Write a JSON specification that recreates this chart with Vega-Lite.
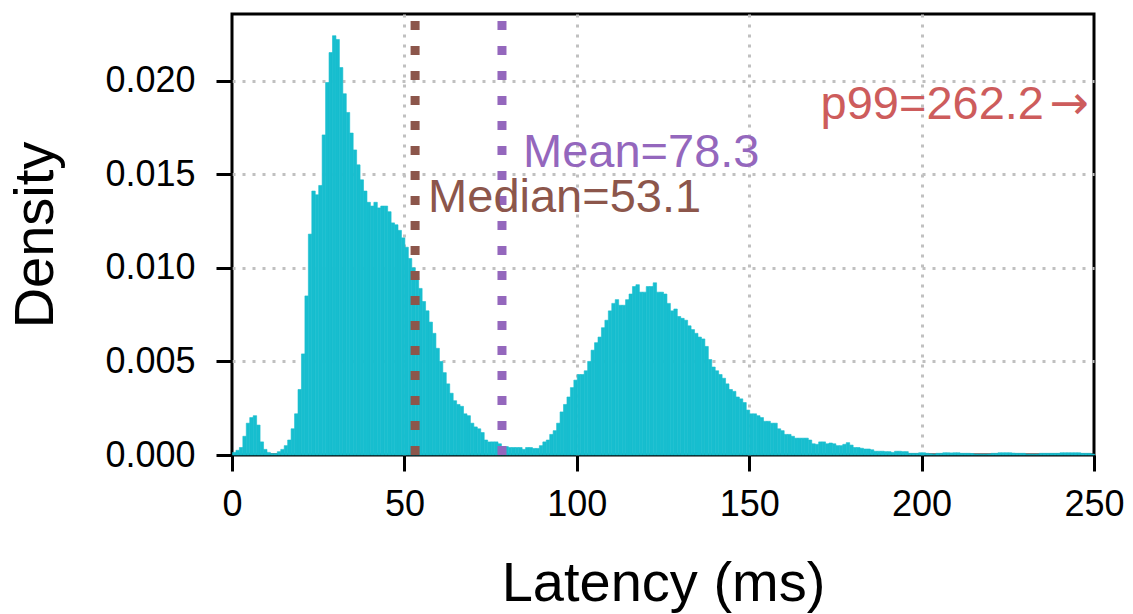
{
  "$schema": "https://vega.github.io/schema/vega-lite/v6.json",
  "autosize": {"type": "none"},
  "padding": {"left": 232, "top": 14, "right": 39, "bottom": 159},
  "width": 862,
  "height": 441,
  "background": "white",
  "view": {"stroke": "black", "strokeWidth": 3},
  "config": {
    "font": "Liberation Sans",
    "axis": {
      "labelFontSize": 36, "titleFontSize": 56, "titleFontWeight": "normal",
      "labelColor": "black", "titleColor": "black",
      "tickColor": "black", "tickWidth": 3, "tickSize": 16,
      "domain": false, "grid": true, "gridColor": "#c0c0c0", "gridDash": [3, 7], "gridWidth": 3,
      "labelOverlap": false, "labelFlush": false
    }
  },
  "datasets": {
    "hist": [
      {"lo":0,"hi":1,"d":0.00014},{"lo":1,"hi":2,"d":0.00025},{"lo":2,"hi":3,"d":0.0004},{"lo":3,"hi":4,"d":0.001},{"lo":4,"hi":5,"d":0.0017},
      {"lo":5,"hi":6,"d":0.002},{"lo":6,"hi":7,"d":0.0021},{"lo":7,"hi":8,"d":0.0016},{"lo":8,"hi":9,"d":0.0007},{"lo":9,"hi":10,"d":0.0003},
      {"lo":10,"hi":11,"d":0.00014},{"lo":11,"hi":12,"d":0.00007},{"lo":12,"hi":13,"d":0.00007},{"lo":13,"hi":14,"d":0.00018},{"lo":14,"hi":15,"d":0.0003},
      {"lo":15,"hi":16,"d":0.0005},{"lo":16,"hi":17,"d":0.0008},{"lo":17,"hi":18,"d":0.0014},{"lo":18,"hi":19,"d":0.0022},{"lo":19,"hi":20,"d":0.0035},
      {"lo":20,"hi":21,"d":0.0054},{"lo":21,"hi":22,"d":0.0085},{"lo":22,"hi":23,"d":0.0118},{"lo":23,"hi":24,"d":0.0141},{"lo":24,"hi":25,"d":0.0139},
      {"lo":25,"hi":26,"d":0.0144},{"lo":26,"hi":27,"d":0.0171},{"lo":27,"hi":28,"d":0.0199},{"lo":28,"hi":29,"d":0.0215},{"lo":29,"hi":30,"d":0.0224},
      {"lo":30,"hi":31,"d":0.0222},{"lo":31,"hi":32,"d":0.0207},{"lo":32,"hi":33,"d":0.0193},{"lo":33,"hi":34,"d":0.0183},{"lo":34,"hi":35,"d":0.0172},
      {"lo":35,"hi":36,"d":0.0163},{"lo":36,"hi":37,"d":0.0155},{"lo":37,"hi":38,"d":0.0147},{"lo":38,"hi":39,"d":0.0141},{"lo":39,"hi":40,"d":0.0135},
      {"lo":40,"hi":41,"d":0.0133},{"lo":41,"hi":42,"d":0.0135},{"lo":42,"hi":43,"d":0.0132},{"lo":43,"hi":44,"d":0.0133},{"lo":44,"hi":45,"d":0.0133},
      {"lo":45,"hi":46,"d":0.013},{"lo":46,"hi":47,"d":0.0124},{"lo":47,"hi":48,"d":0.0123},{"lo":48,"hi":49,"d":0.012},{"lo":49,"hi":50,"d":0.0116},
      {"lo":50,"hi":51,"d":0.0111},{"lo":51,"hi":52,"d":0.0105},{"lo":52,"hi":53,"d":0.01},{"lo":53,"hi":54,"d":0.0095},{"lo":54,"hi":55,"d":0.0089},
      {"lo":55,"hi":56,"d":0.0082},{"lo":56,"hi":57,"d":0.0077},{"lo":57,"hi":58,"d":0.0071},{"lo":58,"hi":59,"d":0.0065},{"lo":59,"hi":60,"d":0.0057},
      {"lo":60,"hi":61,"d":0.005},{"lo":61,"hi":62,"d":0.0044},{"lo":62,"hi":63,"d":0.0038},{"lo":63,"hi":64,"d":0.0033},{"lo":64,"hi":65,"d":0.0029},
      {"lo":65,"hi":66,"d":0.0027},{"lo":66,"hi":67,"d":0.0026},{"lo":67,"hi":68,"d":0.0022},{"lo":68,"hi":69,"d":0.0021},{"lo":69,"hi":70,"d":0.0017},
      {"lo":70,"hi":71,"d":0.0015},{"lo":71,"hi":72,"d":0.0014},{"lo":72,"hi":73,"d":0.0012},{"lo":73,"hi":74,"d":0.0008},{"lo":74,"hi":75,"d":0.0007},
      {"lo":75,"hi":76,"d":0.0007},{"lo":76,"hi":77,"d":0.0007},{"lo":77,"hi":78,"d":0.0006},{"lo":78,"hi":79,"d":0.00045},{"lo":79,"hi":80,"d":0.00045},
      {"lo":80,"hi":81,"d":0.0004},{"lo":81,"hi":82,"d":0.0004},{"lo":82,"hi":83,"d":0.0004},{"lo":83,"hi":84,"d":0.0004},{"lo":84,"hi":85,"d":0.0003},
      {"lo":85,"hi":86,"d":0.0004},{"lo":86,"hi":87,"d":0.0004},{"lo":87,"hi":88,"d":0.00035},{"lo":88,"hi":89,"d":0.00035},{"lo":89,"hi":90,"d":0.0005},
      {"lo":90,"hi":91,"d":0.0007},{"lo":91,"hi":92,"d":0.0008},{"lo":92,"hi":93,"d":0.0011},{"lo":93,"hi":94,"d":0.0013},{"lo":94,"hi":95,"d":0.0017},
      {"lo":95,"hi":96,"d":0.0023},{"lo":96,"hi":97,"d":0.0027},{"lo":97,"hi":98,"d":0.0031},{"lo":98,"hi":99,"d":0.0036},{"lo":99,"hi":100,"d":0.004},
      {"lo":100,"hi":101,"d":0.0043},{"lo":101,"hi":102,"d":0.0043},{"lo":102,"hi":103,"d":0.0045},{"lo":103,"hi":104,"d":0.005},{"lo":104,"hi":105,"d":0.0056},
      {"lo":105,"hi":106,"d":0.006},{"lo":106,"hi":107,"d":0.0063},{"lo":107,"hi":108,"d":0.0068},{"lo":108,"hi":109,"d":0.0072},{"lo":109,"hi":110,"d":0.0077},
      {"lo":110,"hi":111,"d":0.0081},{"lo":111,"hi":112,"d":0.0083},{"lo":112,"hi":113,"d":0.008},{"lo":113,"hi":114,"d":0.008},{"lo":114,"hi":115,"d":0.0083},
      {"lo":115,"hi":116,"d":0.0086},{"lo":116,"hi":117,"d":0.009},{"lo":117,"hi":118,"d":0.0091},{"lo":118,"hi":119,"d":0.0087},{"lo":119,"hi":120,"d":0.0087},
      {"lo":120,"hi":121,"d":0.009},{"lo":121,"hi":122,"d":0.009},{"lo":122,"hi":123,"d":0.0092},{"lo":123,"hi":124,"d":0.0087},{"lo":124,"hi":125,"d":0.0087},
      {"lo":125,"hi":126,"d":0.0086},{"lo":126,"hi":127,"d":0.0081},{"lo":127,"hi":128,"d":0.0077},{"lo":128,"hi":129,"d":0.0078},{"lo":129,"hi":130,"d":0.0074},
      {"lo":130,"hi":131,"d":0.0073},{"lo":131,"hi":132,"d":0.0072},{"lo":132,"hi":133,"d":0.0069},{"lo":133,"hi":134,"d":0.0067},{"lo":134,"hi":135,"d":0.0065},
      {"lo":135,"hi":136,"d":0.0063},{"lo":136,"hi":137,"d":0.0062},{"lo":137,"hi":138,"d":0.0058},{"lo":138,"hi":139,"d":0.0051},{"lo":139,"hi":140,"d":0.0047},
      {"lo":140,"hi":141,"d":0.0045},{"lo":141,"hi":142,"d":0.0043},{"lo":142,"hi":143,"d":0.0041},{"lo":143,"hi":144,"d":0.0038},{"lo":144,"hi":145,"d":0.0035},
      {"lo":145,"hi":146,"d":0.0034},{"lo":146,"hi":147,"d":0.0031},{"lo":147,"hi":148,"d":0.003},{"lo":148,"hi":149,"d":0.0028},{"lo":149,"hi":150,"d":0.0024},
      {"lo":150,"hi":151,"d":0.0022},{"lo":151,"hi":152,"d":0.0022},{"lo":152,"hi":153,"d":0.0021},{"lo":153,"hi":154,"d":0.002},{"lo":154,"hi":155,"d":0.0018},
      {"lo":155,"hi":156,"d":0.0018},{"lo":156,"hi":157,"d":0.0017},{"lo":157,"hi":158,"d":0.0017},{"lo":158,"hi":159,"d":0.0014},{"lo":159,"hi":160,"d":0.0013},
      {"lo":160,"hi":161,"d":0.0011},{"lo":161,"hi":162,"d":0.0011},{"lo":162,"hi":163,"d":0.001},{"lo":163,"hi":164,"d":0.0009},{"lo":164,"hi":165,"d":0.0009},
      {"lo":165,"hi":166,"d":0.0009},{"lo":166,"hi":167,"d":0.0009},{"lo":167,"hi":168,"d":0.0008},{"lo":168,"hi":169,"d":0.0006},{"lo":169,"hi":170,"d":0.00057},
      {"lo":170,"hi":171,"d":0.0007},{"lo":171,"hi":172,"d":0.0007},{"lo":172,"hi":173,"d":0.0006},{"lo":173,"hi":174,"d":0.00064},{"lo":174,"hi":175,"d":0.0006},
      {"lo":175,"hi":176,"d":0.0005},{"lo":176,"hi":177,"d":0.0005},{"lo":177,"hi":178,"d":0.00057},{"lo":178,"hi":179,"d":0.00066},{"lo":179,"hi":180,"d":0.00053},
      {"lo":180,"hi":181,"d":0.0004},{"lo":181,"hi":182,"d":0.0004},{"lo":182,"hi":183,"d":0.00036},{"lo":183,"hi":184,"d":0.00032},{"lo":184,"hi":185,"d":0.00032},
      {"lo":185,"hi":186,"d":0.00028},{"lo":186,"hi":187,"d":0.0002},{"lo":187,"hi":188,"d":0.0002},{"lo":188,"hi":189,"d":0.0002},{"lo":189,"hi":190,"d":0.00018},
      {"lo":190,"hi":191,"d":0.00018},{"lo":191,"hi":192,"d":0.00014},{"lo":192,"hi":193,"d":0.0002},{"lo":193,"hi":194,"d":0.0002},{"lo":194,"hi":195,"d":0.00018},
      {"lo":195,"hi":196,"d":0.00018},{"lo":196,"hi":197,"d":0.00009},{"lo":197,"hi":198,"d":0.00009},{"lo":198,"hi":199,"d":0.00009},{"lo":199,"hi":200,"d":0.00012},
      {"lo":200,"hi":201,"d":0.00012},{"lo":201,"hi":202,"d":0.00009},{"lo":202,"hi":203,"d":0.00006},{"lo":203,"hi":204,"d":0.00004},{"lo":204,"hi":205,"d":0.00009},
      {"lo":205,"hi":206,"d":0.00009},{"lo":206,"hi":207,"d":0.00012},{"lo":207,"hi":208,"d":0.00012},{"lo":208,"hi":209,"d":0.00011},{"lo":209,"hi":210,"d":0.00012},
      {"lo":210,"hi":211,"d":0.00012},{"lo":211,"hi":212,"d":0.00009},{"lo":212,"hi":213,"d":0.00009},{"lo":213,"hi":214,"d":0.00009},{"lo":214,"hi":215,"d":0.00008},
      {"lo":215,"hi":216,"d":0.00004},{"lo":216,"hi":217,"d":0.00004},{"lo":217,"hi":218,"d":0.00004},{"lo":218,"hi":219,"d":0.00004},{"lo":219,"hi":220,"d":0.00005},
      {"lo":220,"hi":221,"d":0.00009},{"lo":221,"hi":222,"d":0.00009},{"lo":222,"hi":223,"d":0.00012},{"lo":223,"hi":224,"d":0.00012},{"lo":224,"hi":225,"d":0.00012},
      {"lo":225,"hi":226,"d":0.00012},{"lo":226,"hi":227,"d":0.0001},{"lo":227,"hi":228,"d":0.00009},{"lo":228,"hi":229,"d":0.00009},{"lo":229,"hi":230,"d":0.00009},
      {"lo":230,"hi":231,"d":0.00004},{"lo":231,"hi":232,"d":0.00004},{"lo":232,"hi":233,"d":0.00004},{"lo":233,"hi":234,"d":0.00004},{"lo":234,"hi":235,"d":0.00009},
      {"lo":235,"hi":236,"d":0.00009},{"lo":236,"hi":237,"d":0.00009},{"lo":237,"hi":238,"d":0.00009},{"lo":238,"hi":239,"d":0.00009},{"lo":239,"hi":240,"d":0.00009},
      {"lo":240,"hi":241,"d":0.00012},{"lo":241,"hi":242,"d":0.00012},{"lo":242,"hi":243,"d":0.00012},{"lo":243,"hi":244,"d":0.00012},{"lo":244,"hi":245,"d":0.00012},
      {"lo":245,"hi":246,"d":0.00012},{"lo":246,"hi":247,"d":0.00009},{"lo":247,"hi":248,"d":0.00009},{"lo":248,"hi":249,"d":0.00009},{"lo":249,"hi":250,"d":0.00005}
    ],
    "stats": [
      {"stat": "Median", "value": 53.1, "label": "Median=53.1"},
      {"stat": "Mean", "value": 78.3, "label": "Mean=78.3"},
      {"stat": "p99", "value": 262.2, "label": "p99=262.2", "arrow": "→"}
    ]
  },
  "layer": [
    {
      "data": {"name": "hist"},
      "mark": {"type": "bar", "color": "#17becf", "stroke": "#17becf", "strokeWidth": 0.6, "binSpacing": 0},
      "encoding": {
        "x": {"field": "lo", "type": "quantitative", "bin": "binned",
              "scale": {"domain": [0, 250], "nice": false, "zero": false},
              "axis": {"values": [0, 50, 100, 150, 200, 250], "format": "d", "title": "Latency (ms)", "labelPadding": 16, "titlePadding": 34,
                       "gridOpacity": {"condition": {"test": "datum.value == 0 || datum.value == 250", "value": 0}, "value": 1}}},
        "x2": {"field": "hi"},
        "y": {"field": "d", "type": "quantitative",
              "scale": {"domain": [0, 0.02356], "nice": false},
              "axis": {"values": [0, 0.005, 0.01, 0.015, 0.02], "format": ".3f", "title": "Density", "labelPadding": 21, "titlePadding": 40,
                       "gridOpacity": {"condition": {"test": "datum.value == 0", "value": 0}, "value": 1}}}
      }
    },
    {
      "data": {"name": "stats"},
      "transform": [{"filter": "datum.stat == 'Median'"}],
      "mark": {"type": "rule", "color": "#8c564b", "strokeWidth": 9, "strokeDash": [9, 16]},
      "encoding": {
        "x": {"field": "value", "type": "quantitative"},
        "y": {"datum": 0},
        "y2": {"datum": 0.02356}
      }
    },
    {
      "data": {"name": "stats"},
      "transform": [{"filter": "datum.stat == 'Mean'"}],
      "mark": {"type": "rule", "color": "#9467bd", "strokeWidth": 9, "strokeDash": [9, 16]},
      "encoding": {
        "x": {"field": "value", "type": "quantitative"},
        "y": {"datum": 0},
        "y2": {"datum": 0.02356}
      }
    },
    {
      "data": {"name": "stats"},
      "transform": [{"filter": "datum.stat == 'Median'"}],
      "mark": {"type": "text", "color": "#8c564b", "fontSize": 47, "align": "left", "baseline": "alphabetic", "dx": 13},
      "encoding": {
        "x": {"field": "value", "type": "quantitative"},
        "y": {"datum": 0.0130},
        "text": {"field": "label"}
      }
    },
    {
      "data": {"name": "stats"},
      "transform": [{"filter": "datum.stat == 'Mean'"}],
      "mark": {"type": "text", "color": "#9467bd", "fontSize": 47, "align": "left", "baseline": "alphabetic", "dx": 21},
      "encoding": {
        "x": {"field": "value", "type": "quantitative"},
        "y": {"datum": 0.0154},
        "text": {"field": "label"}
      }
    },
    {
      "data": {"name": "stats"},
      "transform": [{"filter": "datum.stat == 'p99'"}],
      "mark": {"type": "text", "color": "#cd5c5c", "fontSize": 47, "align": "right", "baseline": "alphabetic", "dx": -50},
      "encoding": {
        "x": {"datum": 250},
        "y": {"datum": 0.01795},
        "text": {"field": "label"}
      }
    },
    {
      "data": {"name": "stats"},
      "transform": [{"filter": "datum.stat == 'p99'"}],
      "mark": {"type": "text", "color": "#cd5c5c", "fontSize": 47, "font": "DejaVu Sans", "align": "right", "baseline": "alphabetic", "dx": -5},
      "encoding": {
        "x": {"datum": 250},
        "y": {"datum": 0.01795},
        "text": {"field": "arrow"}
      }
    }
  ]
}
